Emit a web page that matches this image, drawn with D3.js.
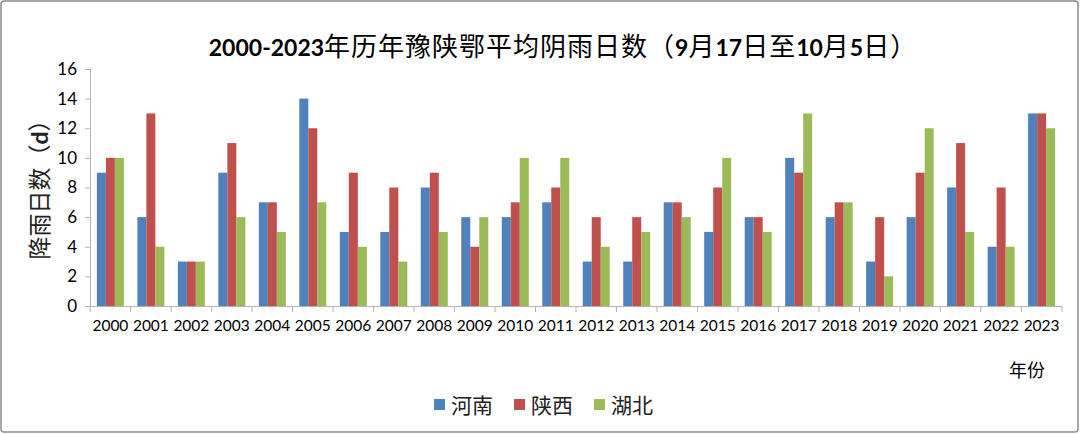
<!DOCTYPE html>
<html><head><meta charset="utf-8">
<script src="https://cdn.jsdelivr.net/npm/d3@7/dist/d3.min.js"></script>
<style>html,body{margin:0;padding:0;background:#fff;}</style>
</head><body>
<svg id="c" width="1080" height="434"></svg>
<script>
const years = ["2000","2001","2002","2003","2004","2005","2006","2007","2008","2009","2010","2011","2012","2013","2014","2015","2016","2017","2018","2019","2020","2021","2022","2023"];
const henan   = [9,6,3,9,7,14,5,5,8,6,6,7,3,3,7,5,6,10,6,3,6,8,4,13];
const shaanxi = [10,13,3,11,7,12,9,8,9,4,7,8,6,6,7,8,6,9,7,6,9,11,8,13];
const hubei   = [10,4,3,6,5,7,4,3,5,6,10,10,4,5,6,10,5,13,7,2,12,5,4,12];
const seriesNames = ["河南","陕西","湖北"];
const colors = ["#4F81BD","#C0504D","#9BBB59"];
const yTicks = [0,2,4,6,8,10,12,14,16];

const svg = d3.select("#c");
svg.append("rect").attr("x",1).attr("y",1).attr("width",1077).attr("height",431)
  .attr("rx",3).attr("fill","#fff").attr("stroke","#8c8c8c").attr("stroke-width",1.5);

const L=90, R=1062, T=69, B=306;
const x = d3.scaleBand().domain(years).range([L,R]).paddingInner(0.333).paddingOuter(0.17);
const xs = d3.scaleBand().domain(seriesNames).range([0,x.bandwidth()]);
const y = d3.scaleLinear().domain([0,16]).range([B,T]);

const data = [henan,shaanxi,hubei];
data.forEach((arr,si)=>{
  svg.append("g").selectAll("rect").data(arr).join("rect")
    .attr("x",(d,i)=>x(years[i])+xs(seriesNames[si]))
    .attr("y",d=>y(d)).attr("width",xs.bandwidth()).attr("height",d=>B-y(d))
    .attr("fill",colors[si]);
});

// y axis
const ya = svg.append("g").attr("transform",`translate(${L},0)`)
  .call(d3.axisLeft(y).tickValues(yTicks).tickSize(5).tickPadding(8));
ya.select(".domain").attr("stroke","#b3b3b3");
ya.selectAll(".tick line").attr("stroke","#b3b3b3");
ya.selectAll("text").attr("font-family","Lato, 'Open Sans', sans-serif").attr("font-size",17).attr("fill","#000");

// x axis
const xa = svg.append("g").attr("transform",`translate(0,${B})`)
  .call(d3.axisBottom(x).tickSize(0).tickPadding(14));
xa.select(".domain").attr("stroke","#b3b3b3").attr("d",`M${L},0.5H${R}`);
xa.selectAll("text").attr("font-family","Lato, 'Open Sans', sans-serif").attr("font-size",15.5).attr("fill","#000");
// category separator ticks
const sepX = years.map(yr=>x(yr)-x.step()*x.paddingInner()/2).concat([R]);
svg.append("g").selectAll("line").data(sepX).join("line")
  .attr("x1",d=>d).attr("x2",d=>d).attr("y1",B).attr("y2",B+6).attr("stroke","#b3b3b3");

// title
const title = svg.append("text").attr("x",563).attr("y",56).attr("text-anchor","middle").attr("fill","#000");
const parts = [["2000-2023",true],["年历年豫陕鄂平均阴雨日数（",false],["9",true],["月",false],["17",true],["日至",false],["10",true],["月",false],["5",true],["日）",false]];
parts.forEach(p=>{
  title.append("tspan").text(p[0])
    .attr("font-family", p[1] ? "Lato, 'Open Sans', sans-serif" : "'Noto Sans CJK SC', sans-serif")
    .attr("font-size", p[1] ? 23 : 26)
    .attr("letter-spacing", p[1] ? 0 : 1)
    .attr("font-weight", p[1] ? "bold" : "normal");
});

// y label
const yl = svg.append("text").attr("transform","translate(48,184) rotate(-90)").attr("text-anchor","middle")
  .attr("font-family","'Noto Sans CJK SC', sans-serif").attr("font-size",23).attr("fill","#222");
yl.append("tspan").text("降雨日数（");
yl.append("tspan").text("d").attr("font-family","Lato, sans-serif").attr("font-weight","bold");
yl.append("tspan").text("）");

// x label
svg.append("text").attr("x",1027).attr("y",377).attr("text-anchor","middle")
  .attr("font-family","'Noto Sans CJK SC', sans-serif").attr("font-size",18).attr("fill","#000").text("年份");

// legend
const lg = svg.append("g");
const lx = [434,514,594];
seriesNames.forEach((n,i)=>{
  lg.append("rect").attr("x",lx[i]).attr("y",399).attr("width",11).attr("height",11).attr("fill",colors[i]);
  lg.append("text").attr("x",lx[i]+17).attr("y",413).attr("font-family","'Noto Sans CJK SC', sans-serif")
    .attr("font-size",21).attr("fill","#222").text(n);
});
</script>
</body></html>
